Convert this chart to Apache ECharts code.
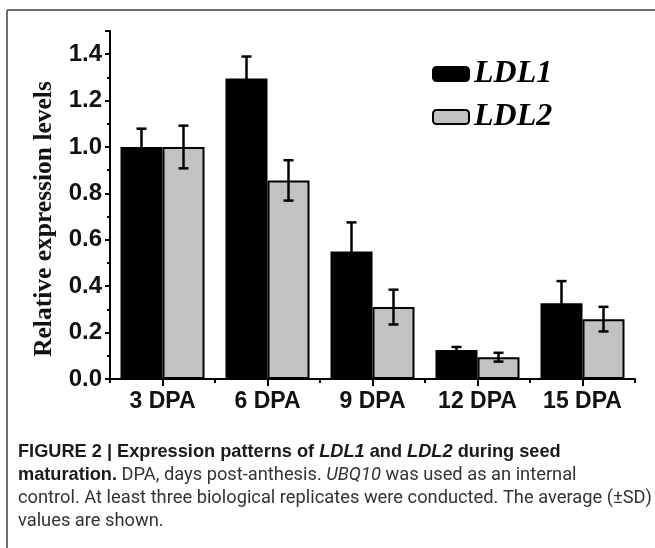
<!DOCTYPE html>
<html>
<head>
<meta charset="utf-8">
<script src="https://cdn.jsdelivr.net/npm/echarts@6/dist/echarts.min.js"></script>
<style>
html,body{margin:0;padding:0;background:#fff;}
#chart{width:655px;height:548px;}
</style>
</head>
<body>
<div id="chart"></div>
<script>
const categories = ['3 DPA', '6 DPA', '9 DPA', '12 DPA', '15 DPA'];
const ldl1 = [1.0, 1.295, 0.55, 0.125, 0.327];
const ldl1Sd = [0.079, 0.095, 0.125, 0.013, 0.095];
const ldl2 = [1.0, 0.856, 0.31, 0.094, 0.258];
const ldl2Sd = [0.092, 0.087, 0.075, 0.019, 0.053];
const yMin = 0, yMax = 1.5, yInterval = 0.2;

const chart = echarts.init(document.getElementById('chart'), null, {renderer: 'canvas'});

function errData(vals, sds) {
  return vals.map((v, i) => [i, v, sds[i]]);
}
function makeErr(sign) {
  return function (params, api) {
    const i = api.value(0), v = api.value(1), sd = api.value(2);
    const band = api.size([1, 0])[0];
    const dx = sign * band * 0.2;
    const top = api.coord([i, v + sd]);
    const bot = api.coord([i, v - sd]);
    const x = top[0] + dx;
    const cap = 5;
    const st = {stroke: '#000', lineWidth: 2.5};
    return {
      type: 'group',
      children: [
        {type: 'line', shape: {x1: x, y1: top[1], x2: x, y2: bot[1]}, style: st},
        {type: 'line', shape: {x1: x - cap, y1: top[1], x2: x + cap, y2: top[1]}, style: st},
        {type: 'line', shape: {x1: x - cap, y1: bot[1], x2: x + cap, y2: bot[1]}, style: st}
      ]
    };
  };
}

const regFont = 'Roboto, "Liberation Sans", sans-serif';
const boldFont = '"Liberation Sans", Arial, sans-serif';
const regSize = 18.3;
const boldSize = 18.2;
const lh = 23.3;
const rich = {
  b: {fontFamily: boldFont, fontSize: boldSize, fontWeight: 'bold', fill: '#1a1a1a', lineHeight: lh},
  bi: {fontFamily: boldFont, fontSize: boldSize, fontWeight: 'bold', fontStyle: 'italic', fill: '#1a1a1a', lineHeight: lh},
  r: {fontFamily: regFont, fontSize: regSize, fill: '#333', lineHeight: lh},
  i: {fontFamily: regFont, fontSize: regSize, fontStyle: 'italic', fill: '#333', lineHeight: lh}
};

const option = {
  backgroundColor: '#fff',
  animation: false,
  grid: {left: 110, right: 20, top: 31, bottom: 169, containLabel: false},
  legend: {
    orient: 'vertical',
    left: 427,
    top: 53,
    itemWidth: 36,
    itemHeight: 14,
    itemGap: 11,
    icon: 'roundRect',
    textStyle: {fontFamily: '"Liberation Serif", "DejaVu Serif", serif', fontWeight: 'bold', fontStyle: 'italic', fontSize: 32, color: '#000', lineHeight: 32},
    data: ['LDL1', 'LDL2']
  },
  xAxis: [
    {
      type: 'category',
      data: categories,
      position: 'bottom',
      axisLine: {show: true, lineStyle: {color: '#000', width: 2}},
      axisTick: {show: true, alignWithLabel: true, length: 7, lineStyle: {color: '#000', width: 2}},
      axisLabel: {show: true, interval: 0, color: '#111', fontFamily: '"Liberation Sans", Arial, sans-serif', fontWeight: 'bold', fontSize: 23, margin: 11},
      splitLine: {show: false}
    },
    {
      type: 'value',
      min: 0,
      max: categories.length,
      interval: 1,
      position: 'bottom',
      axisLine: {show: false},
      axisTick: {show: true, length: 4, lineStyle: {color: '#000', width: 2}},
      axisLabel: {show: false},
      splitLine: {show: false}
    }
  ],
  yAxis: {
    type: 'value',
    min: yMin,
    max: yMax,
    interval: yInterval,
    name: 'Relative expression levels',
    nameLocation: 'middle',
    nameGap: 45,
    nameTextStyle: {fontFamily: '"Liberation Serif", "DejaVu Serif", serif', fontWeight: 'bold', fontSize: 25.5, color: '#111', padding: [0, 28, 0, 0]},
    axisLine: {show: true, lineStyle: {color: '#000', width: 2}},
    axisTick: {show: true, length: 5, lineStyle: {color: '#000', width: 2}},
    minorTick: {show: true, splitNumber: 2, length: 3, lineStyle: {color: '#000', width: 2}},
    axisLabel: {
      color: '#111', fontFamily: '"Liberation Sans", Arial, sans-serif', fontWeight: 'bold', fontSize: 24, margin: 8,
      showMaxLabel: false,
      formatter: v => v.toFixed(1)
    },
    splitLine: {show: false}
  },
  series: [
    {
      name: 'LDL1', type: 'bar', xAxisIndex: 0, data: ldl1, barWidth: '40%', barGap: '0%',
      itemStyle: {color: '#000', borderColor: '#000', borderWidth: 1.5}
    },
    {
      name: 'LDL2', type: 'bar', xAxisIndex: 0, data: ldl2, barWidth: '40%', barGap: '0%',
      itemStyle: {color: '#c2c2c2', borderColor: '#000', borderWidth: 2}
    },
    {
      type: 'custom', xAxisIndex: 0, renderItem: makeErr(-1), data: errData(ldl1, ldl1Sd),
      encode: {x: 0, y: 1}, z: 10, silent: true
    },
    {
      type: 'custom', xAxisIndex: 0, renderItem: makeErr(1), data: errData(ldl2, ldl2Sd),
      encode: {x: 0, y: 1}, z: 10, silent: true
    }
  ],
  graphic: [
    {type: 'line', shape: {x1: 7, y1: 10, x2: 655, y2: 10}, style: {stroke: '#6e6e6e', lineWidth: 2}},
    {type: 'line', shape: {x1: 7, y1: 10, x2: 7, y2: 548}, style: {stroke: '#6e6e6e', lineWidth: 2}},
    {
      type: 'text', left: 18, top: 443,
      style: {
        text: '{b|FIGURE 2 | Expression patterns of }{bi|LDL1}{b| and }{bi|LDL2}{b| during seed}\n' +
              '{b|maturation.}{r| DPA, days post-anthesis. }{i|UBQ10}{r| was used as an internal}\n' +
              '{r|control. At least three biological replicates were conducted. The average (±SD)}\n' +
              '{r|values are shown.}',
        rich: rich
      }
    }
  ]
};
chart.setOption(option);
</script>
</body>
</html>
